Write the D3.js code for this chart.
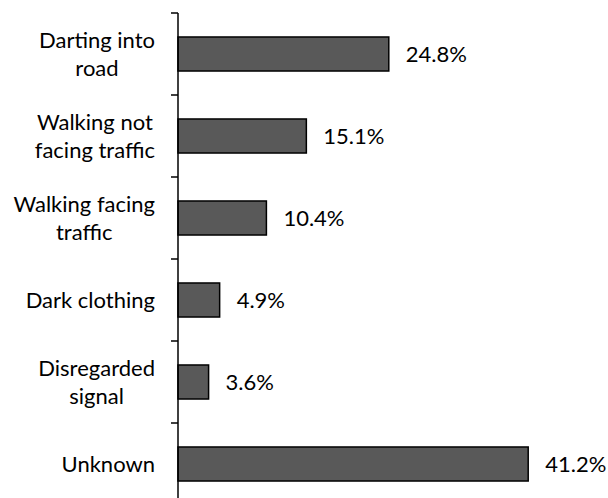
<!DOCTYPE html>
<html>
<head>
<meta charset="utf-8">
<script src="https://cdn.jsdelivr.net/npm/d3@7"></script>
<style>
  html, body { margin: 0; padding: 0; background: #ffffff; }
  svg { display: block; }
  text { font-family: Lato, "Open Sans", sans-serif; fill: #000; }
</style>
</head>
<body>
<svg id="chart" width="608" height="498"></svg>
<script>
const categories = ["Darting into road", "Walking not facing traffic", "Walking facing traffic", "Dark clothing", "Disregarded signal", "Unknown"];
const values = [0.248, 0.151, 0.104, 0.049, 0.036, 0.412];
const valueLabels = ["24.8%", "15.1%", "10.4%", "4.9%", "3.6%", "41.2%"];

const W = 608, H = 498;
const svg = d3.select("#chart");
const axisX = 178;
const fontSize = 22;
const lineH = 28;
const wrapWidth = 150;

const y = d3.scaleBand()
  .domain(categories)
  .range([13, 505])
  .paddingInner(0.585)
  .paddingOuter(0.2925);

const x = d3.scaleLinear()
  .domain([0, 0.5])
  .range([axisX, axisX + 425]);

// bars
svg.append("g").selectAll("rect")
  .data(categories)
  .join("rect")
  .attr("x", x(0))
  .attr("y", d => y(d))
  .attr("width", (d, i) => x(values[i]) - x(0))
  .attr("height", y.bandwidth())
  .attr("fill", "#595959")
  .attr("stroke", "#000")
  .attr("stroke-width", 1.5);

// axis line and ticks at band boundaries
const step = y.step();
const start = y.range()[0];
const ax = svg.append("g").attr("stroke", "#000").attr("stroke-width", 1.5);
ax.append("line")
  .attr("x1", axisX).attr("x2", axisX)
  .attr("y1", start).attr("y2", start + step * categories.length);
ax.selectAll("line.tick")
  .data(d3.range(categories.length + 1))
  .join("line")
  .attr("class", "tick")
  .attr("x1", axisX - 7).attr("x2", axisX)
  .attr("y1", i => start + i * step)
  .attr("y2", i => start + i * step);

// category labels (wrapped, centered, block right-aligned)
const labelRight = 155;
const measure = svg.append("text").attr("font-size", fontSize);
function w(s) { measure.text(s); return measure.node().getComputedTextLength(); }
function wrap(s) {
  const words = s.split(" ");
  const lines = [];
  let cur = "";
  words.forEach(word => {
    const t = cur ? cur + " " + word : word;
    if (cur && w(t) > wrapWidth) { lines.push(cur); cur = word; }
    else cur = t;
  });
  if (cur) lines.push(cur);
  return lines;
}
categories.forEach((c, i) => {
  const lines = wrap(c);
  const maxW = d3.max(lines, l => w(l));
  const cx = labelRight - maxW / 2;
  const cy = y(c) + y.bandwidth() / 2;
  const t = svg.append("text")
    .attr("font-size", fontSize)
    .attr("text-anchor", "middle");
  lines.forEach((l, j) => {
    t.append("tspan")
      .attr("x", cx)
      .attr("y", cy + (j - (lines.length - 1) / 2) * lineH)
      .attr("dy", "0.36em")
      .text(l);
  });
});
measure.remove();

// value labels
svg.append("g").selectAll("text")
  .data(categories)
  .join("text")
  .attr("font-size", fontSize)
  .attr("x", (d, i) => x(values[i]) + 17)
  .attr("y", d => y(d) + y.bandwidth() / 2)
  .attr("dy", "0.36em")
  .text((d, i) => valueLabels[i]);
</script>
</body>
</html>
